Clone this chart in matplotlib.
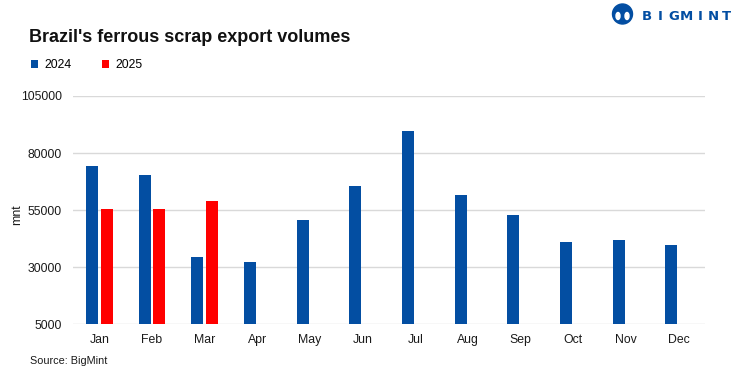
import matplotlib
matplotlib.use("Agg")
import matplotlib.pyplot as plt
import numpy as np
from matplotlib.patches import Circle, Ellipse

months = ["Jan", "Feb", "Mar", "Apr", "May", "Jun", "Jul", "Aug", "Sep", "Oct", "Nov", "Dec"]
volumes_2024 = [74300, 70400, 34500, 32300, 50700, 65600, 89700, 61600, 52900, 41100, 41900, 39700]
volumes_2025 = [55500, 55500, 59000]
y_ticks = [5000, 30000, 55000, 80000, 105000]

blue = "#034ea2"
red = "#ff0000"
grid_color = "#d9d9d9"
font = "Liberation Sans"

plt.rcParams['font.family'] = [font, 'DejaVu Sans']

fig = plt.figure(figsize=(7.36, 3.78), dpi=100)
ax = fig.add_axes([73 / 736, 1 - 324.3 / 378, (705 - 73) / 736, (324.3 - 96) / 378])

x = np.arange(len(months))
width = 0.228
offset = 0.142
ax.bar(x - offset, volumes_2024, width, color=blue, label="2024", zorder=3)
ax.bar(x[:len(volumes_2025)] + offset, volumes_2025, width, color=red, label="2025", zorder=3)

ax.set_ylim(5000, 105000)
ax.set_xlim(-0.5, len(months) - 0.5)
ax.set_yticks(y_ticks)
ax.set_yticklabels([str(v) for v in y_ticks], fontsize=8.8, color="#1a1a1a")
ax.set_xticks(x)
ax.set_xticklabels(months, fontsize=8.8, color="#1a1a1a")
ax.tick_params(axis='both', length=0)
ax.tick_params(axis='y', pad=8)
ax.tick_params(axis='x', pad=7)
ax.yaxis.grid(True, color=grid_color, linewidth=1, zorder=0)
for side in ["top", "right", "left", "bottom"]:
    ax.spines[side].set_visible(False)

# y label placed by hand so it is not clipped
fig.text(17 / 736, 1 - 215 / 378, "mnt", fontsize=8.8, color="#1a1a1a", rotation=90,
         ha="center", va="center")

# title, legend, source
fig.text(29 / 736, 1 - 38 / 378, "Brazil's ferrous scrap export volumes", fontsize=13,
         fontweight="bold", va="center", ha="left", color="#111111")
fig.legend(loc="center left", bbox_to_anchor=(20 / 736, 1 - 65.5 / 378), ncol=2, frameon=False,
           fontsize=8.8, handlelength=0.6, handleheight=0.6, columnspacing=2.5, handletextpad=0.5)
fig.text(30 / 736, 1 - 361 / 378, "Source: BigMint", fontsize=7.8, va="center", ha="left",
         color="#1a1a1a")

# BigMint logo
logo = fig.add_axes([0, 0, 1, 1], facecolor="none")
logo.set_xlim(0, 736)
logo.set_ylim(378, 0)
logo.axis("off")
logo.add_patch(Circle((622.5, 14), 10, color=blue))
logo.add_patch(Ellipse((618, 16), 4, 7, color="white"))
logo.add_patch(Ellipse((627, 16), 4, 7, color="white"))
for i, letter in enumerate("BIGMINT"):
    logo.text(647 + i * 13.2, 17, letter, fontsize=9.5, fontweight="bold", color=blue,
              ha="center", va="center", family="DejaVu Sans")

fig.savefig("out.png", dpi=100)
